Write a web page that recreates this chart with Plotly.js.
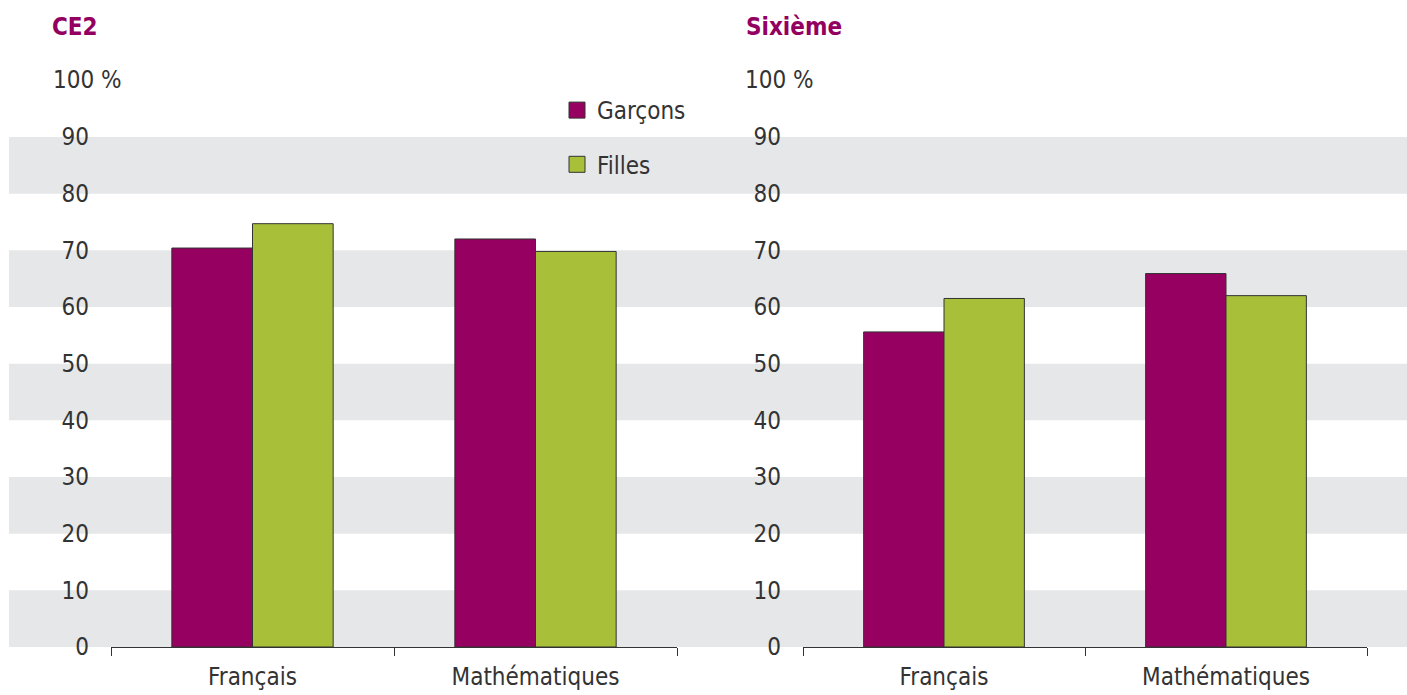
<!DOCTYPE html>
<html>
<head>
<meta charset="utf-8">
<script src="https://cdn.plot.ly/plotly-3.0.1.min.js"></script>
<style>html,body{margin:0;padding:0;background:#fff;}#chart{width:1407px;height:695px;}</style>
</head>
<body>
<div id="chart"></div>
<script>
// ---- data ----
const categories = ['Français', 'Mathématiques'];
const seriesNames = ['Garçons', 'Filles'];
const ce2Garcons = [70.4, 72.0];
const ce2Filles = [74.7, 69.8];
const sixiemeGarcons = [55.6, 65.9];
const sixiemeFilles = [61.5, 62.0];
const panelTitles = ['CE2', 'Sixième'];
const yTicks = [0, 10, 20, 30, 40, 50, 60, 70, 80, 90];
const yTopLabel = '100 %';
const bandRanges = [[0, 10], [20, 30], [40, 50], [60, 70], [80, 90]];

// ---- style ----
const W = 1407, H = 695;
const FONT = '"DejaVu Sans Condensed", "DejaVu Sans", sans-serif';
const FS = 24;
const TEXT = '#333333';
const C_G = '#960060';
const C_F = '#a8bf3a';
const px = v => v / W;
const py = v => (H - v) / H;

const barLine = {color: '#333333', width: 1};
const traces = [
  {type: 'bar', name: seriesNames[0], x: categories, y: ce2Garcons, xaxis: 'x', yaxis: 'y',
   marker: {color: C_G, line: barLine}, showlegend: false, hoverinfo: 'y'},
  {type: 'bar', name: seriesNames[1], x: categories, y: ce2Filles, xaxis: 'x', yaxis: 'y',
   marker: {color: C_F, line: barLine}, showlegend: false, hoverinfo: 'y'},
  {type: 'bar', name: seriesNames[0], x: categories, y: sixiemeGarcons, xaxis: 'x2', yaxis: 'y2',
   marker: {color: C_G, line: barLine}, showlegend: false, hoverinfo: 'y'},
  {type: 'bar', name: seriesNames[1], x: categories, y: sixiemeFilles, xaxis: 'x2', yaxis: 'y2',
   marker: {color: C_F, line: barLine}, showlegend: false, hoverinfo: 'y'},
  // legend entries (square keys, same colours as the bars)
  {type: 'scatter', mode: 'markers', name: seriesNames[0], x: [null], y: [null], xaxis: 'x', yaxis: 'y',
   marker: {symbol: 'square', size: 16, color: C_G, line: {color: '#333333', width: 1}},
   legendgroup: 'g', showlegend: true, hoverinfo: 'skip'},
  {type: 'scatter', mode: 'markers', name: seriesNames[1], x: [null], y: [null], xaxis: 'x', yaxis: 'y',
   marker: {symbol: 'square', size: 16, color: C_F, line: {color: '#333333', width: 1}},
   legendgroup: 'f', showlegend: true, hoverinfo: 'skip'}
];

const yDomain = [py(647), py(80.3)];
const xAxisCommon = {
  type: 'category', showgrid: false, zeroline: false,
  showline: true, linecolor: '#333333', linewidth: 1,
  ticks: 'outside', ticklen: 8, tickcolor: '#333333', tickwidth: 1,
  tickson: 'boundaries', ticklabelstandoff: 8,
  tickfont: {family: FONT, size: FS, color: TEXT}, fixedrange: true
};
const yAxisCommon = {
  range: [0, 100], showgrid: false, zeroline: false, showline: false,
  tickvals: yTicks, ticks: '', ticklabelstandoff: 21,
  tickfont: {family: FONT, size: FS, color: TEXT}, fixedrange: true, domain: yDomain
};

const shapes = bandRanges.map(r => ({
  type: 'rect', layer: 'below', xref: 'paper', yref: 'y',
  x0: px(9), x1: 1, y0: r[0], y1: r[1],
  fillcolor: '#e6e7e9', line: {width: 0}
}));

const annotations = [
  {text: '<b>' + panelTitles[0] + '</b>', xref: 'paper', yref: 'paper', x: px(50), y: py(27),
   xanchor: 'left', yanchor: 'middle', showarrow: false, font: {family: FONT, size: FS, color: '#93005f'}},
  {text: '<b>' + panelTitles[1] + '</b>', xref: 'paper', yref: 'paper', x: px(744), y: py(27),
   xanchor: 'left', yanchor: 'middle', showarrow: false, font: {family: FONT, size: FS, color: '#93005f'}},
  {text: yTopLabel, xref: 'paper', yref: 'y', x: px(51), y: 100,
   xanchor: 'left', yanchor: 'middle', showarrow: false, font: {family: FONT, size: FS, color: TEXT}},
  {text: yTopLabel, xref: 'paper', yref: 'y2', x: px(743), y: 100,
   xanchor: 'left', yanchor: 'middle', showarrow: false, font: {family: FONT, size: FS, color: TEXT}}
];

const layout = {
  width: W, height: H,
  margin: {l: 0, r: 0, t: 0, b: 0, pad: 0},
  paper_bgcolor: '#ffffff', plot_bgcolor: 'rgba(0,0,0,0)',
  barmode: 'group', bargap: 0.43, bargroupgap: 0,
  font: {family: FONT, size: FS, color: TEXT},
  xaxis: Object.assign({}, xAxisCommon, {domain: [px(111), px(677)], anchor: 'y'}),
  xaxis2: Object.assign({}, xAxisCommon, {domain: [px(803), px(1367)], anchor: 'y2'}),
  yaxis: Object.assign({}, yAxisCommon, {anchor: 'x'}),
  yaxis2: Object.assign({}, yAxisCommon, {anchor: 'x2'}),
  showlegend: true,
  legend: {
    x: px(557), y: py(88), xanchor: 'left', yanchor: 'top',
    bgcolor: 'rgba(0,0,0,0)', borderwidth: 0,
    traceorder: 'grouped', tracegroupgap: 20,
    font: {family: FONT, size: FS, color: TEXT}
  },
  shapes: shapes,
  annotations: annotations
};

Plotly.newPlot('chart', traces, layout, {displayModeBar: false, staticPlot: true});
</script>
</body>
</html>
